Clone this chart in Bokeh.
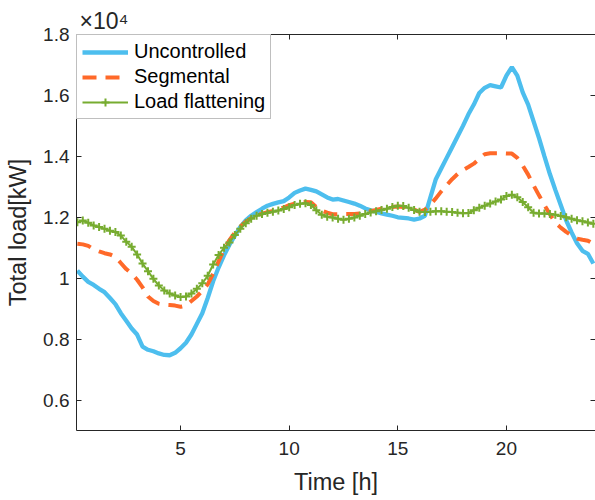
from bokeh.plotting import figure
from bokeh.models import FixedTicker, LinearAxis, Range1d
from bokeh.embed import file_html
from bokeh.resources import INLINE

# time of day, quarter-hour steps
hours = [0.25 * i for i in range(1, 97)]

uncontrolled = [
    10250, 10050, 9880, 9780, 9650, 9540, 9350, 9150,
    8850, 8600, 8350, 8150, 7750, 7650, 7600, 7530,
    7480, 7470, 7550, 7700, 7880, 8150, 8500, 8850,
    9350, 9900, 10350, 10750, 11100, 11400, 11680, 11900,
    12050, 12170, 12280, 12380, 12440, 12490, 12530, 12650,
    12800, 12880, 12940, 12900, 12850, 12750, 12650, 12580,
    12600, 12550, 12500, 12450, 12380, 12290, 12230, 12180,
    12130, 12090, 12050, 12000, 11980, 11960, 11920, 11960,
    12050, 12650, 13250, 13600, 13950, 14300, 14650, 15000,
    15380, 15700, 16080, 16250, 16340, 16300, 16260, 16650,
    16930, 16650, 16100, 15700, 15150, 14600, 14000, 13420,
    12900, 12400, 11900, 11500, 11150, 10900, 10800, 10480,
]

segmental = [
    11130, 11110, 11060, 10950, 10880, 10820, 10780, 10700,
    10500, 10300, 10150, 9950, 9700, 9400, 9250, 9160,
    9130, 9120, 9100, 9060, 9100, 9250, 9400, 9580,
    9800, 10150, 10550, 10950, 11250, 11500, 11700, 11850,
    11970, 12060, 12120, 12170, 12210, 12260, 12320, 12400,
    12450, 12480, 12500, 12490, 12330, 12220, 12150, 12100,
    12100, 12110, 12110, 12110, 12120, 12150, 12200, 12240,
    12280, 12320, 12340, 12350, 12340, 12300, 12250, 12180,
    12250, 12420, 12620, 12850, 13050, 13250, 13420, 13550,
    13650, 13760, 13920, 14070, 14100, 14100, 14100, 14090,
    14090, 13950, 13700, 13400, 13050, 12720, 12400, 12100,
    11820, 11660, 11520, 11400, 11300, 11260, 11230, 11130,
]

flattening = [
    11840, 11890, 11820, 11730, 11680, 11620, 11560, 11520,
    11400, 11200, 11030, 10780, 10480, 10230, 9980, 9760,
    9600, 9500, 9430, 9380, 9400, 9500, 9650, 9830,
    10080, 10450, 10760, 11000, 11170, 11420, 11620, 11800,
    11950, 12050, 12110, 12150, 12180, 12220, 12270, 12330,
    12400, 12440, 12460, 12400, 12230, 12080, 12020, 11990,
    11950, 11920, 11950, 11990, 12050, 12110, 12160, 12200,
    12240, 12280, 12340, 12380, 12370, 12310, 12240, 12180,
    12170, 12180, 12200, 12200, 12180, 12170, 12150, 12130,
    12140, 12230, 12310, 12380, 12450, 12520, 12580, 12700,
    12740, 12660, 12500, 12330, 12150, 12120, 12120, 12110,
    12080, 12040, 12000, 11950, 11900, 11870, 11830, 11790,
]

x_ticks = [5, 10, 15, 20]
y_ticks = [6000, 8000, 10000, 12000, 14000, 16000, 18000]
y_tick_labels = ["0.6", "0.8", "1", "1.2", "1.4", "1.6", "1.8"]
exponent_text = "\u00d710\u2074"

FONT = "Liberation Sans"
DARK = "#262626"

p = figure(width=595, height=500, output_backend="svg", toolbar_location=None,
           x_range=Range1d(0.21, 24.1), y_range=Range1d(5000, 18000),
           min_border_left=76, min_border_right=0, min_border_top=34,
           min_border_bottom=70, outline_line_color=None)
p.grid.visible = False
p.background_fill_color = "white"
p.border_fill_color = "white"

p.title.text = exponent_text
p.title.align = "left"
p.title.offset = 3
p.title.standoff = 1
p.title.text_font = FONT
p.title.text_font_size = "23px"
p.title.text_font_style = "normal"
p.title.text_color = DARK


def style_axis(ax):
    ax.axis_line_color = DARK
    ax.axis_line_width = 1
    ax.major_tick_in = 5
    ax.major_tick_out = 0
    ax.major_tick_line_color = DARK
    ax.minor_tick_line_color = None
    ax.major_label_text_font = FONT
    ax.major_label_text_font_size = "19px"
    ax.major_label_text_color = DARK
    ax.axis_label_text_font = FONT
    ax.axis_label_text_font_size = "23.5px"
    ax.axis_label_text_font_style = "normal"
    ax.axis_label_text_color = DARK


xa = p.xaxis[0]
xa.ticker = FixedTicker(ticks=x_ticks)
xa.axis_label = "Time [h]"
style_axis(xa)
xa.major_label_standoff = 11
xa.axis_label_standoff = 11

ya = p.yaxis[0]
ya.ticker = FixedTicker(ticks=y_ticks)
ya.major_label_overrides = {t: s for t, s in zip(y_ticks, y_tick_labels)}
ya.axis_label = "Total load[kW]"
style_axis(ya)
ya.major_label_standoff = 7
ya.axis_label_standoff = 9

top = LinearAxis(ticker=FixedTicker(ticks=x_ticks))
style_axis(top)
top.major_label_overrides = {t: "" for t in x_ticks}
top.major_label_text_font_size = "0px"
top.major_label_standoff = 0
p.add_layout(top, "above")

right = LinearAxis(ticker=FixedTicker(ticks=y_ticks))
style_axis(right)
right.axis_line_color = None
right.major_label_overrides = {t: "" for t in y_ticks}
right.major_label_text_font_size = "0px"
right.major_label_standoff = 0
p.add_layout(right, "right")

p.line(hours, uncontrolled, line_color="#4DBEEE", line_width=4.3,
       legend_label="Uncontrolled")
p.line(hours, segmental, line_color="#FF6929", line_width=4,
       line_dash="14 9", legend_label="Segmental")
p.line(hours, flattening, line_color="#77AC30", line_width=2,
       legend_label="Load flattening")
p.scatter(hours, flattening, marker="cross", size=8, line_color="#77AC30",
          line_width=2, legend_label="Load flattening")

lg = p.legend[0]
lg.location = "top_left"
lg.margin = 0
lg.padding = 5
lg.spacing = 2
lg.glyph_width = 46
lg.glyph_height = 20
lg.label_height = 20
lg.label_standoff = 6
lg.label_text_font = FONT
lg.label_text_font_size = "20px"
lg.label_text_color = "black"
lg.border_line_color = "#7f7f7f"
lg.border_line_width = 1
lg.background_fill_color = "white"
lg.background_fill_alpha = 1.0

open("out.html", "w").write(file_html(p, INLINE))
